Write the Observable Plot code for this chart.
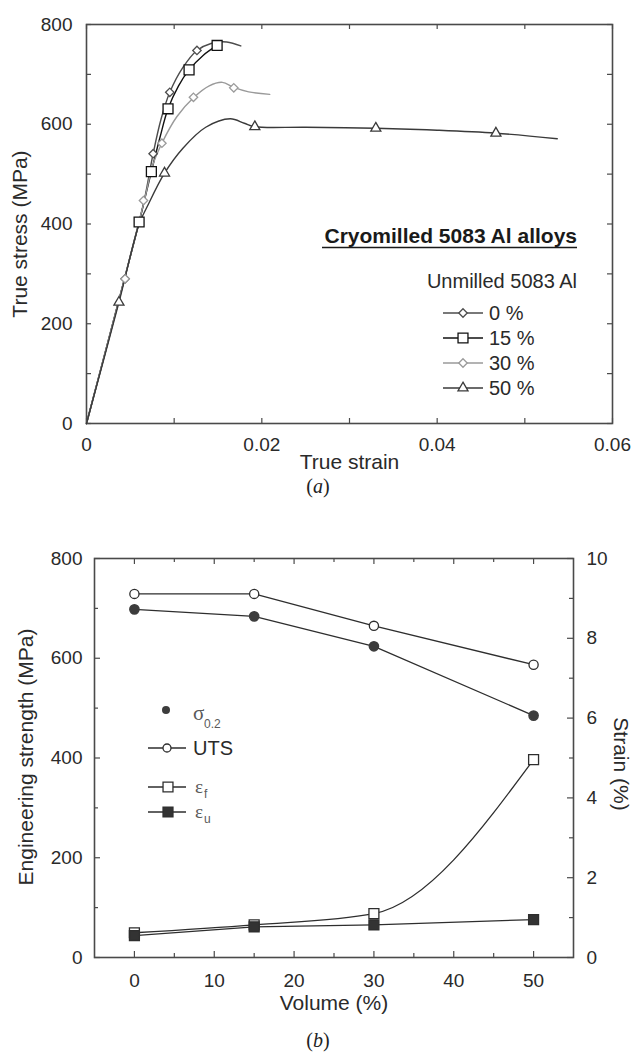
<!DOCTYPE html>
<html><head><meta charset="utf-8">
<script src="https://cdn.jsdelivr.net/npm/d3@7"></script>
<script src="https://cdn.jsdelivr.net/npm/@observablehq/plot@0.6"></script>
<style>
body{margin:0;background:#fff;width:636px;height:1057px;position:relative;overflow:hidden;font-family:"Liberation Sans",Arial,sans-serif}
#a{position:absolute;left:0;top:0}
#b{position:absolute;left:0;top:530px}
.cap{position:absolute;width:636px;left:0;text-align:center;font-family:"Liberation Serif",serif;font-size:20px;color:#222;line-height:18px}
</style></head><body>
<div id="a"></div><div id="b"></div>
<div class="cap" style="top:477px">(<i>a</i>)</div>
<div class="cap" style="top:1031px">(<i>b</i>)</div>
<script>
// ---------- Data (a): true stress–strain curves ----------
const seriesLabels = ["0 %", "15 %", "30 %", "50 %"];
const curve0  = [[0,0],[0.0043,288],[0.0065,440],[0.0076,541],[0.0085,610],[0.0095,664],[0.0110,714],[0.0126,748],[0.0142,762],[0.0160,765],[0.0176,757]];
const curve15 = [[0,0],[0.0043,288],[0.0060,404],[0.0074,505],[0.0084,575],[0.0093,631],[0.0105,677],[0.0117,709],[0.0133,738],[0.0149,758]];
const curve30 = [[0,0],[0.0043,288],[0.0065,440],[0.0076,520],[0.0086,562],[0.0103,615],[0.0122,653],[0.0140,677],[0.0155,684],[0.0168,674],[0.0185,665],[0.0209,660]];
const curve50 = [[0,0],[0.0037,243],[0.0060,400],[0.0069,434],[0.0089,502],[0.0110,552],[0.0136,594],[0.0164,611],[0.0180,602],[0.0192,595],[0.0250,594],[0.0330,592],[0.0400,588],[0.0467,582],[0.0537,571]];
const marks0  = [[0.0044,290],[0.0076,541],[0.0095,664],[0.0126,748]];
const marks15 = [[0.0060,404],[0.0074,505],[0.0093,631],[0.0117,709],[0.0149,758]];
const marks30 = [[0.0044,290],[0.0065,447],[0.0086,562],[0.0122,654],[0.0168,673]];
const marks50 = [[0.0037,243],[0.0089,502],[0.0192,595],[0.0330,592],[0.0467,582]];
const xMajorA = [0, 0.02, 0.04, 0.06];
const xMinorA = [0.01, 0.03, 0.05];
const yMajorA = [0, 200, 400, 600, 800];
const yMinorA = [100, 300, 500, 700];

// ---------- Data (b): strength and strain vs volume ----------
const volume = [0, 15, 30, 50];
const sigma02 = [698, 684, 624, 485];   // MPa
const uts = [729, 729, 665, 587];       // MPa
const epsF = [0.62, 0.82, 1.10, 4.96];  // %
const epsU = [0.55, 0.77, 0.82, 0.95];  // %
const xMajorB = [0, 10, 20, 30, 40, 50];
const xMinorB = [5, 15, 25, 35, 45];
const yMajorB = [0, 200, 400, 600, 800];
const yMinorB = [100, 300, 500, 700];
const strainMajor = [0, 2, 4, 6, 8, 10];
const strainMinor = [1, 3, 5, 7, 9];
const strainPerMPa = 10 / 800; // right axis 0–10 % over left 0–800 MPa

const W = 636;
const font = "Liberation Sans, Arial, sans-serif";
const ink = "#2a2a2a";
const frameCol = "#4a4a4a";

function tickMarks(o) {
  const m = [];
  const rx = (v, l, top) => Plot.ruleX([v], {x: d => d, [top ? "insetBottom" : "insetTop"]: o.ph - l, stroke: frameCol, strokeWidth: 1.2});
  const ry = (v, l, right) => Plot.ruleY([v], {y: d => d, [right ? "insetLeft" : "insetRight"]: o.pw - l, stroke: frameCol, strokeWidth: 1.2});
  for (const top of [false, true]) {
    o.xMajor.forEach(v => m.push(rx(v, o.big, top)));
    o.xMinor.forEach(v => m.push(rx(v, o.small, top)));
  }
  o.yMajor.forEach(v => m.push(ry(v, o.big, false)));
  o.yMinor.forEach(v => m.push(ry(v, o.small, false)));
  o.rMajor.forEach(v => m.push(ry(v, o.big, true)));
  o.rMinor.forEach(v => m.push(ry(v, o.small, true)));
  return m;
}

// ---------- Plot (a) ----------
const A = {h: 475, ml: 86, mr: 24, mt: 24, mb: 52};
const pwA = W - A.ml - A.mr, phA = A.h - A.mt - A.mb;
const colA = ["#4d4d4d", "#111111", "#9a9a9a", "#3a3a3a"];
const curvesA = [curve0, curve15, curve30, curve50];
const marksA = [marks0, marks15, marks30, marks50];
const symA = ["diamond2", "square", "diamond2", "triangle2"];
const rA = [3.8, 5.6, 3.8, 4.8];

const plotA = Plot.plot({
  width: W, height: A.h,
  marginLeft: A.ml, marginRight: A.mr, marginTop: A.mt, marginBottom: A.mb,
  style: {fontFamily: font, fontSize: "19px", color: ink, background: "white"},
  x: {domain: [0, 0.06]},
  y: {domain: [0, 800]},
  marks: [
    ...tickMarks({xMajor: xMajorA, xMinor: xMinorA, yMajor: yMajorA, yMinor: yMinorA, rMajor: yMajorA, rMinor: yMinorA, pw: pwA, ph: phA, big: 5, small: 5}),
    Plot.frame({stroke: frameCol, strokeWidth: 1.6}),
    Plot.axisX(xMajorA, {tickSize: 0, tickPadding: 14, tickFormat: d => String(d), fill: ink, label: null}),
    Plot.axisY(yMajorA, {tickSize: 0, tickPadding: 14, fill: ink, label: null}),
    Plot.text(["True strain"], {text: d => d, frameAnchor: "bottom", textAnchor: "middle", dy: 45, fontSize: 21, fill: ink}),
    Plot.text(["True stress (MPa)"], {text: d => d, frameAnchor: "left", textAnchor: "middle", rotate: -90, dx: -66, dy: 10, fontSize: 21, fill: ink}),
    ...curvesA.map((c, i) => Plot.line(c, {x: d => d[0], y: d => d[1], stroke: colA[i], strokeWidth: 1.4, curve: "catmull-rom"})),
    ...marksA.map((c, i) => Plot.dot(c, {x: d => d[0], y: d => d[1], symbol: symA[i], r: rA[i], stroke: colA[i], fill: "white", strokeWidth: 1.3}))
  ]
});
document.getElementById("a").appendChild(plotA);

function sym(type, r) { return d3.symbol().type(type).size(Math.PI * r * r)(); }
const typeOf = {diamond2: d3.symbolDiamond2, square: d3.symbolSquare, triangle2: d3.symbolTriangle2, circle: d3.symbolCircle};

const gA = d3.select(plotA).append("g").attr("font-family", font).attr("text-anchor", "start");
gA.append("text").attr("x", 577).attr("y", 243).attr("text-anchor", "end").attr("font-weight", "bold")
  .attr("font-size", 21).attr("fill", "#1a1a1a").text("Cryomilled 5083 Al alloys");
gA.append("line").attr("x1", 322).attr("x2", 577).attr("y1", 247.5).attr("y2", 247.5).attr("stroke", "#1a1a1a").attr("stroke-width", 1.6);
gA.append("text").attr("x", 577).attr("y", 288).attr("text-anchor", "end").attr("font-size", 20).attr("fill", ink).text("Unmilled 5083 Al");
seriesLabels.forEach((lab, i) => {
  const y = 313 + 25 * i;
  gA.append("line").attr("x1", 443).attr("x2", 483).attr("y1", y).attr("y2", y).attr("stroke", colA[i]).attr("stroke-width", 1.4);
  gA.append("path").attr("d", sym(typeOf[symA[i]], rA[i])).attr("transform", `translate(463,${y})`)
    .attr("fill", "white").attr("stroke", colA[i]).attr("stroke-width", 1.3);
  gA.append("text").attr("x", 489).attr("y", y + 7).attr("text-anchor", "start").attr("font-size", 20).attr("fill", ink).text(lab);
});

// ---------- Plot (b) ----------
const B = {h: 490, ml: 94, mr: 63, mt: 28, mb: 63};
const pwB = W - B.ml - B.mr, phB = B.h - B.mt - B.mb;
const rowsB = volume.map((v, i) => ({v, s: sigma02[i], u: uts[i], f: epsF[i] / strainPerMPa, e: epsU[i] / strainPerMPa}));
const rMajorB = strainMajor.map(d => d / strainPerMPa);
const rMinorB = strainMinor.map(d => d / strainPerMPa);
const lineCol = "#2e2e2e";

const plotB = Plot.plot({
  width: W, height: B.h,
  marginLeft: B.ml, marginRight: B.mr, marginTop: B.mt, marginBottom: B.mb,
  style: {fontFamily: font, fontSize: "19px", color: ink, background: "white"},
  x: {domain: [-5, 55], label: null},
  y: {domain: [0, 800], label: null},
  marks: [
    ...tickMarks({xMajor: xMajorB, xMinor: xMinorB, yMajor: yMajorB, yMinor: yMinorB, rMajor: rMajorB, rMinor: rMinorB, pw: pwB, ph: phB, big: 6, small: 4}),
    Plot.frame({stroke: frameCol, strokeWidth: 1.6}),
    Plot.axisX(xMajorB, {tickSize: 0, tickPadding: 16, fill: ink, label: null}),
    Plot.axisY(yMajorB, {anchor: "left", tickSize: 0, tickPadding: 12, fill: ink, label: null}),
    Plot.axisY(rMajorB, {anchor: "right", tickSize: 0, tickPadding: 13, tickFormat: d => String(Math.round(d * strainPerMPa)), fill: ink, label: null}),
    Plot.text(["Volume (%)"], {text: d => d, frameAnchor: "bottom", textAnchor: "middle", dy: 52, fontSize: 21, fill: ink}),
    Plot.text(["Engineering strength (MPa)"], {text: d => d, frameAnchor: "left", textAnchor: "middle", rotate: -90, dx: -68, dy: -1, fontSize: 21, fill: ink}),
    Plot.text(["Strain (%)"], {text: d => d, frameAnchor: "right", textAnchor: "middle", rotate: 90, dx: 47, dy: 6, fontSize: 21, fill: ink}),
    Plot.line(rowsB, {x: "v", y: "u", stroke: lineCol, strokeWidth: 1.3}),
    Plot.line(rowsB, {x: "v", y: "s", stroke: lineCol, strokeWidth: 1.3}),
    Plot.line(rowsB, {x: "v", y: "f", stroke: lineCol, strokeWidth: 1.3, curve: "monotone-x"}),
    Plot.line(rowsB, {x: "v", y: "e", stroke: lineCol, strokeWidth: 1.3}),
    Plot.dot(rowsB, {x: "v", y: "u", r: 4.6, stroke: lineCol, fill: "white", strokeWidth: 1.3}),
    Plot.dot(rowsB, {x: "v", y: "s", r: 4.6, fill: "#3c3c3c", stroke: "#3c3c3c"}),
    Plot.dot(rowsB, {x: "v", y: "f", symbol: "square", r: 5.6, stroke: lineCol, fill: "white", strokeWidth: 1.3}),
    Plot.dot(rowsB, {x: "v", y: "e", symbol: "square", r: 5.6, stroke: lineCol, fill: "#333", strokeWidth: 1.3})
  ]
});
document.getElementById("b").appendChild(plotB);

const gB = d3.select(plotB).append("g").attr("font-family", font).attr("text-anchor", "start");
const greek = "#5a5a5a";
// sigma 0.2
gB.append("circle").attr("cx", 166).attr("cy", 180).attr("r", 4).attr("fill", "#3c3c3c");
gB.append("text").attr("x", 193).attr("y", 190).attr("font-family", "Liberation Serif, serif").attr("font-size", 21).attr("fill", greek).text("σ");
gB.append("text").attr("x", 204).attr("y", 198).attr("font-size", 12).attr("fill", greek).text("0.2");
// UTS
gB.append("line").attr("x1", 148).attr("x2", 186).attr("y1", 218).attr("y2", 218).attr("stroke", lineCol).attr("stroke-width", 1.3);
gB.append("circle").attr("cx", 167).attr("cy", 218).attr("r", 4).attr("fill", "white").attr("stroke", lineCol).attr("stroke-width", 1.3);
gB.append("text").attr("x", 193).attr("y", 225).attr("font-size", 20).attr("fill", ink).text("UTS");
// eps f
gB.append("line").attr("x1", 148).attr("x2", 186).attr("y1", 257).attr("y2", 257).attr("stroke", lineCol).attr("stroke-width", 1.3);
gB.append("path").attr("d", sym(d3.symbolSquare, 5.6)).attr("transform", "translate(168,257)").attr("fill", "white").attr("stroke", lineCol).attr("stroke-width", 1.3);
gB.append("text").attr("x", 195).attr("y", 263).attr("font-family", "Liberation Serif, serif").attr("font-size", 19).attr("fill", greek).text("ε");
gB.append("text").attr("x", 204).attr("y", 268).attr("font-size", 12).attr("fill", greek).text("f");
// eps u
gB.append("line").attr("x1", 148).attr("x2", 186).attr("y1", 282).attr("y2", 282).attr("stroke", lineCol).attr("stroke-width", 1.3);
gB.append("path").attr("d", sym(d3.symbolSquare, 5.6)).attr("transform", "translate(168,282)").attr("fill", "#333").attr("stroke", lineCol).attr("stroke-width", 1.3);
gB.append("text").attr("x", 195).attr("y", 288).attr("font-family", "Liberation Serif, serif").attr("font-size", 19).attr("fill", greek).text("ε");
gB.append("text").attr("x", 204).attr("y", 293).attr("font-size", 12).attr("fill", greek).text("u");
</script>
</body></html>
